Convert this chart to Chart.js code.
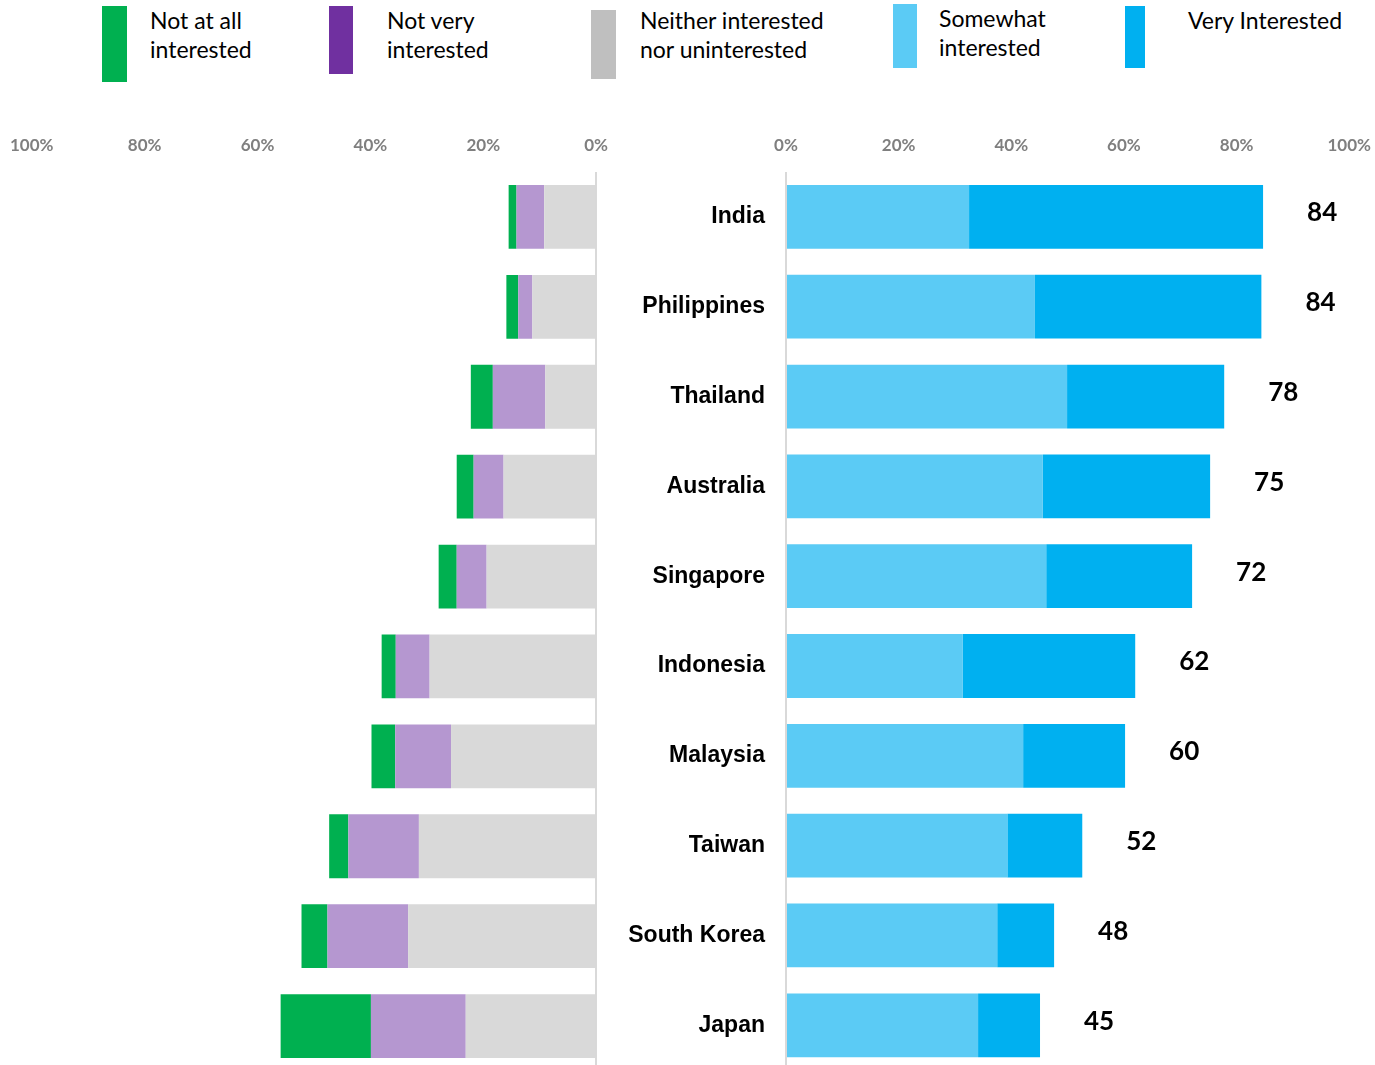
<!DOCTYPE html>
<html>
<head>
<meta charset="utf-8">
<script src="https://cdn.jsdelivr.net/npm/chart.js@4.4.1/dist/chart.umd.min.js"></script>
<style>
  html, body { margin: 0; padding: 0; background: #fff; overflow: hidden; }
  #page { position: relative; width: 1375px; height: 1065px; overflow: hidden; }
  .box { position: absolute; }
  .sw { position: absolute; }
  .lt { position: absolute; font-family: Lato, "Open Sans", sans-serif; font-size: 23px; line-height: 29px; color: #000; white-space: nowrap; }
</style>
</head>
<body>
<div id="page">
  <div class="sw" style="left:102px;top:6px;width:25px;height:76px;background:#00B050"></div>
  <div class="lt" style="left:150px;top:6px">Not at all<br>interested</div>
  <div class="sw" style="left:329px;top:6px;width:24px;height:68px;background:#7030A0"></div>
  <div class="lt" style="left:387px;top:6px">Not very<br>interested</div>
  <div class="sw" style="left:591px;top:10px;width:25px;height:69px;background:#BFBFBF"></div>
  <div class="lt" style="left:640px;top:6px">Neither interested<br>nor uninterested</div>
  <div class="sw" style="left:893px;top:4px;width:24px;height:64px;background:#5BCBF5"></div>
  <div class="lt" style="left:939px;top:4px">Somewhat<br>interested</div>
  <div class="sw" style="left:1125px;top:6px;width:20px;height:62px;background:#00B0F0"></div>
  <div class="lt" style="left:1188px;top:6px">Very Interested</div>

  <div class="box" style="left:-6px;top:0;width:630px;height:1080px"><canvas id="leftChart"></canvas></div>
  <div class="box" style="left:600px;top:0;width:787px;height:1105px"><canvas id="rightChart"></canvas></div>
</div>
<script>
const countries = ['India', 'Philippines', 'Thailand', 'Australia', 'Singapore', 'Indonesia', 'Malaysia', 'Taiwan', 'South Korea', 'Japan'];

// left side (negative answers), in %
const neither  = [9.2, 11.3, 9.0, 16.4, 19.4, 29.5, 25.7, 31.4, 33.3, 23.1];
const notVery  = [4.9, 2.5, 9.3, 5.3, 5.3, 6.0, 9.9, 12.5, 14.3, 16.8];
const notAtAll = [1.4, 2.1, 3.9, 3.0, 3.2, 2.5, 4.2, 3.4, 4.6, 16.0];

// right side (positive answers), in %
const somewhat = [32.5, 44.2, 49.9, 45.6, 46.2, 31.4, 42.1, 39.3, 37.5, 34.1];
const very     = [52.2, 40.2, 27.9, 29.7, 25.9, 30.6, 18.1, 13.3, 10.1, 11.0];
const totals   = [84, 84, 78, 75, 72, 62, 60, 52, 48, 45];

const tickFont = { family: 'Lato, sans-serif', size: 17, weight: 'bold' };
const tickColor = '#7f7f7f';
const zeroLine = c => (c.tick && c.tick.value === 0) ? '#d9d9d9' : 'rgba(0,0,0,0)';

function xAxis(reverse) {
    return {
        type: 'linear', position: 'top', stacked: true,
        min: 0, max: 100, reverse: reverse,
        ticks: { stepSize: 20, font: tickFont, color: tickColor, padding: 16, callback: v => v + '%' },
        grid: { color: zeroLine, lineWidth: 2, drawTicks: false },
        border: { display: false },
        afterFit: s => { s.height = 172; }
    };
}

new Chart(document.getElementById('leftChart'), {
    type: 'bar',
    data: {
        labels: countries,
        datasets: [
            { label: 'Neither interested nor uninterested', data: neither, backgroundColor: '#D9D9D9' },
            { label: 'Not very interested', data: notVery, backgroundColor: '#B597D0' },
            { label: 'Not at all interested', data: notAtAll, backgroundColor: '#00B050' }
        ]
    },
    options: {
        indexAxis: 'y',
        responsive: true, maintainAspectRatio: false, animation: false,
        layout: { padding: { left: 30, right: 23, top: 0, bottom: 9 } },
        datasets: { bar: { categoryPercentage: 1, barPercentage: 0.71 } },
        plugins: { legend: { display: false }, tooltip: { enabled: false } },
        scales: {
            x: xAxis(true),
            y: { stacked: true, display: false }
        }
    }
});

const totalLabels = {
    id: 'totalLabels',
    afterDatasetsDraw(chart) {
        const c = chart.ctx;
        const meta = chart.getDatasetMeta(1);
        c.save();
        c.font = 'bold 26px Lato, sans-serif';
        c.fillStyle = '#000';
        c.textAlign = 'left';
        c.textBaseline = 'middle';
        meta.data.forEach((bar, i) => {
            c.fillText(totals[i], bar.x + 44, bar.y - 4);
        });
        c.restore();
    }
};

new Chart(document.getElementById('rightChart'), {
    type: 'bar',
    data: {
        labels: countries,
        datasets: [
            { label: 'Somewhat interested', data: somewhat, backgroundColor: '#5BCBF5' },
            { label: 'Very Interested', data: very, backgroundColor: '#00B0F0' }
        ]
    },
    options: {
        indexAxis: 'y',
        responsive: true, maintainAspectRatio: false, animation: false,
        layout: { padding: { left: 0, right: 25, top: 0, bottom: 9 } },
        datasets: { bar: { categoryPercentage: 1, barPercentage: 0.71 } },
        plugins: { legend: { display: false }, tooltip: { enabled: false } },
        scales: {
            x: xAxis(false),
            y: {
                stacked: true,
                ticks: { font: { family: '"Liberation Sans", Arial, sans-serif', size: 23, weight: 'bold' }, color: '#000', padding: 21 },
                grid: { display: false, drawTicks: false },
                border: { display: false },
                afterFit: s => { s.width = 186; }
            }
        }
    },
    plugins: [totalLabels]
});
</script>
</body>
</html>
